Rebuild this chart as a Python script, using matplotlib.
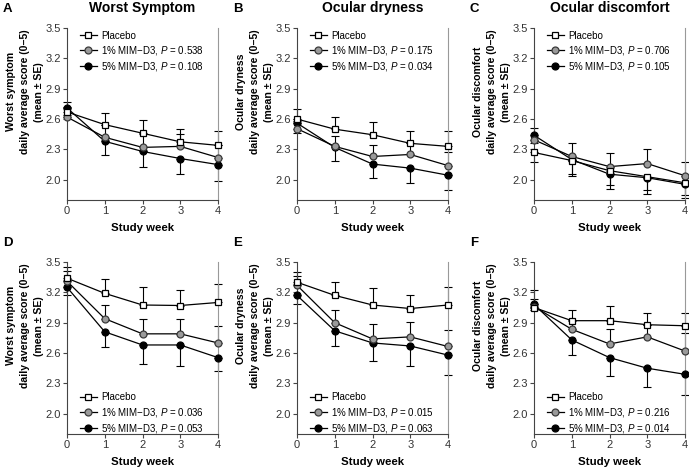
#Daily average symptom scores by study week
#Top row: all subjects, bottom row: subjects with higher baseline scores

import matplotlib
matplotlib.use('Agg')
import matplotlib.pyplot as plt
import numpy as np

plt.rcParams['font.family'] = ['Liberation Sans', 'DejaVu Sans']
plt.rcParams['mathtext.fontset'] = 'custom'
plt.rcParams['mathtext.it'] = 'Liberation Sans:italic'
plt.rcParams['mathtext.rm'] = 'Liberation Sans'

weeks = [0, 1, 2, 3, 4]

#Panel letters, titles and y labels
letters = ['A', 'B', 'C', 'D', 'E', 'F']
titles = ['Worst Symptom', 'Ocular dryness', 'Ocular discomfort']
measures = ['Worst symptom', 'Ocular dryness', 'Ocular discomfort']

#Mean scores (placebo, 1% MIM-D3, 5% MIM-D3)
#Errors: positive = bar drawn up, negative = bar drawn down
a_placebo = [2.67, 2.545, 2.46, 2.375, 2.34]
a_placebo_err = [0.10, 0.11, 0.13, 0.125, 0.14]
a_mim1 = [2.62, 2.42, 2.32, 2.33, 2.22]
a_mim1_err = [0.10, 0.12, 0.13, 0.12, 0.12]
a_mim5 = [2.71, 2.38, 2.28, 2.21, 2.15]
a_mim5_err = [-0.07, -0.14, -0.15, -0.15, -0.16]

b_placebo = [2.60, 2.50, 2.445, 2.36, 2.33]
b_placebo_err = [0.10, 0.12, 0.13, 0.12, 0.15]
b_mim1 = [2.505, 2.33, 2.23, 2.25, 2.14]
b_mim1_err = [0.08, 0.10, 0.11, 0.11, 0.13]
b_mim5 = [2.56, 2.32, 2.155, 2.115, 2.045]
b_mim5_err = [-0.10, -0.13, -0.135, -0.15, -0.145]

c_placebo = [2.27, 2.19, 2.09, 2.03, 1.97]
c_placebo_err = [-0.09, -0.13, -0.14, -0.13, -0.12]
c_mim1 = [2.395, 2.23, 2.13, 2.16, 2.04]
c_mim1_err = [0.12, 0.13, 0.13, 0.14, 0.14]
c_mim5 = [2.44, 2.20, 2.055, 2.02, 1.955]
c_mim5_err = [-0.08, -0.16, -0.145, -0.16, -0.14]

d_placebo = [3.34, 3.19, 3.075, 3.07, 3.10]
d_placebo_err = [0.11, 0.14, 0.175, 0.15, 0.18]
d_mim1 = [3.31, 2.94, 2.79, 2.79, 2.70]
d_mim1_err = [0.10, 0.135, 0.15, 0.15, 0.17]
d_mim5 = [3.25, 2.81, 2.68, 2.68, 2.555]
d_mim5_err = [-0.08, -0.15, -0.19, -0.21, -0.13]

e_placebo = [3.30, 3.17, 3.075, 3.04, 3.075]
e_placebo_err = [0.10, 0.13, 0.165, 0.13, 0.175]
e_mim1 = [3.27, 2.90, 2.74, 2.76, 2.665]
e_mim1_err = [0.095, 0.13, 0.145, 0.15, 0.165]
e_mim5 = [3.17, 2.82, 2.70, 2.67, 2.58]
e_mim5_err = [-0.09, -0.15, -0.18, -0.20, -0.20]

f_placebo = [3.05, 2.92, 2.92, 2.88, 2.87]
f_placebo_err = [0.17, 0.11, 0.15, 0.12, 0.13]
f_mim1 = [3.06, 2.835, 2.69, 2.76, 2.62]
f_mim1_err = [0.07, 0.09, 0.145, 0.12, 0.18]
f_mim5 = [3.08, 2.73, 2.555, 2.45, 2.39]
f_mim5_err = [-0.05, -0.15, -0.18, -0.19, -0.20]

#P values versus placebo (1%, 5%)
p_mim1 = ['0.538', '0.175', '0.706', '0.036', '0.015', '0.216']
p_mim5 = ['0.108', '0.034', '0.105', '0.053', '0.063', '0.014']

panels = [
    (a_placebo, a_placebo_err, a_mim1, a_mim1_err, a_mim5, a_mim5_err),
    (b_placebo, b_placebo_err, b_mim1, b_mim1_err, b_mim5, b_mim5_err),
    (c_placebo, c_placebo_err, c_mim1, c_mim1_err, c_mim5, c_mim5_err),
    (d_placebo, d_placebo_err, d_mim1, d_mim1_err, d_mim5, d_mim5_err),
    (e_placebo, e_placebo_err, e_mim1, e_mim1_err, e_mim5, e_mim5_err),
    (f_placebo, f_placebo_err, f_mim1, f_mim1_err, f_mim5, f_mim5_err),
]

#Axes placement in pixels of a 689x468 figure
W, H = 689.0, 468.0
lefts = [67, 297, 534]
width = 151
tops = [28, 262]
height = 172

fig = plt.figure(figsize=(6.89, 4.68), dpi=100)

#Marker styles for each group
styles = [
    dict(marker='s', mfc='white', mec='black'),
    dict(marker='o', mfc='#9a9a9a', mec='#3a3a3a'),
    dict(marker='o', mfc='black', mec='black'),
]

for i, data in enumerate(panels):
    row, col = divmod(i, 3)
    ax = fig.add_axes([lefts[col] / W, 1 - (tops[row] + height) / H, width / W, height / H])

    labels = ['Placebo',
              '1% MIM\u2212D3, $P$ = ' + p_mim1[i],
              '5% MIM\u2212D3, $P$ = ' + p_mim5[i]]

    #Draw the 5% group first so placebo sits on top
    for k in [2, 1, 0]:
        vals = np.array(data[2 * k])
        err = np.array(data[2 * k + 1])
        lo = np.where(err < 0, -err, 0)
        hi = np.where(err > 0, err, 0)
        eb = ax.errorbar(weeks, vals, yerr=[lo, hi], fmt='none', ecolor='black',
                         elinewidth=0.8, capsize=3, capthick=0.8, zorder=2)
        for art in eb.lines[1] + eb.lines[2]:
            art.set_clip_on(False)
        ax.plot(weeks, vals, color='black', lw=0.9, ms=5, mew=0.9,
                label=labels[k], clip_on=False, zorder=3 + (2 - k), **styles[k])

    #Formatting plot
    ax.set_xlim(0, 4)
    ax.set_ylim(1.8, 3.5)
    ax.set_xticks(weeks)
    ax.set_yticks([2.0, 2.3, 2.6, 2.9, 3.2, 3.5])
    ax.set_yticklabels(['2.0', '2.3', '2.6', '2.9', '3.2', '3.5'])
    ax.tick_params(direction='out', length=3, width=0.8, color='#444444',
                   labelsize=8, labelcolor='#333333', pad=1.5)
    ax.spines['top'].set_visible(False)
    ax.spines['right'].set_color('#999999')
    ax.spines['right'].set_linewidth(0.8)
    ax.spines['left'].set_color('#444444')
    ax.spines['bottom'].set_color('#444444')
    ax.spines['left'].set_linewidth(0.8)
    ax.spines['bottom'].set_linewidth(0.8)

    ax.set_xlabel('Study week', fontsize=8.2, fontweight='bold', labelpad=5)
    ax.set_ylabel(measures[col] + '\ndaily average score (0\u20135)\n(mean \u00b1 SE)',
                  fontsize=7.6, fontweight='bold', linespacing=1.55)
    ax.yaxis.set_label_coords(-0.15, 0.63)

    #Legend in the same order as the reference
    handles, labs = ax.get_legend_handles_labels()
    order = [labs.index(l) for l in labels]
    handles = [handles[j] for j in order]
    if row == 0:
        ax.legend(handles, labels, loc='upper left', bbox_to_anchor=(0.06, 1.008),
                  frameon=False, fontsize=7, handlelength=1.75, handletextpad=0.4,
                  labelspacing=0.35, borderaxespad=0, numpoints=1)
    else:
        ax.legend(handles, labels, loc='lower left', bbox_to_anchor=(0.06, -0.03),
                  frameon=False, fontsize=7, handlelength=1.75, handletextpad=0.4,
                  labelspacing=0.35, borderaxespad=0, numpoints=1)

    #Panel letter and column title
    fig.text((lefts[col] - 64) / W, 1 - (tops[row] - 25) / H, letters[i],
             fontsize=9.5, fontweight='bold', va='top', ha='left')
    if row == 0:
        fig.text((lefts[col] + width / 2) / W, 1 - 8 / H, titles[col],
                 fontsize=10, fontweight='bold', va='center', ha='center')

fig.savefig('out.png', dpi=100)
